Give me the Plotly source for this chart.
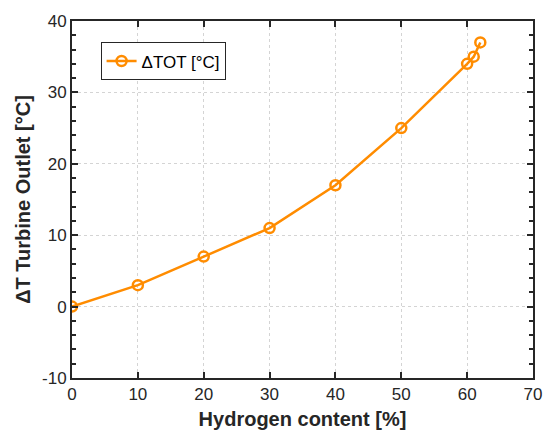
import plotly.graph_objects as go

hydrogen = [0, 10, 20, 30, 40, 50, 60, 61, 62]
delta_tot = [0, 3, 7, 11, 17, 25, 34, 35, 37]
series_name = "ΔTOT [°C]"
x_ticks = [0, 10, 20, 30, 40, 50, 60, 70]
y_ticks = [-10, 0, 10, 20, 30, 40]
y_tick_labels = ["-10", "0", "10", "20", "30", "40"]

orange = "#FF8C00"
dark = "#262626"
font_family = "Liberation Sans, Arial"

fig = go.Figure()
fig.add_trace(go.Scatter(
    x=hydrogen, y=delta_tot, name=series_name, mode="lines+markers",
    line=dict(color=orange, width=2.5),
    marker=dict(symbol="circle-open", size=10, color=orange, line=dict(width=2.5, color=orange)),
))

axis_common = dict(
    showline=True, linecolor=dark, linewidth=2, mirror="ticks",
    ticks="inside", ticklen=6, tickwidth=1.5, tickcolor=dark,
    showgrid=True, gridcolor="#d4d4d4", griddash="dot", gridwidth=1,
    zeroline=False,
    tickfont=dict(family=font_family, size=17, color=dark),
)

fig.update_layout(
    width=554, height=439,
    margin=dict(l=72, r=13, t=15, b=59),
    paper_bgcolor="white", plot_bgcolor="white",
    showlegend=True,
    legend=dict(x=0.062, y=0.94, xanchor="left", yanchor="top",
                bgcolor="white", bordercolor=dark, borderwidth=1,
                font=dict(family=font_family, size=17, color="black"),
                itemwidth=30, tracegroupgap=0),
    xaxis=dict(range=[0, 70], tickvals=x_ticks, **axis_common,
               title=dict(text="<b>Hydrogen content [%]</b>", standoff=9,
                          font=dict(family=font_family, size=20, color=dark))),
    yaxis=dict(range=[-10, 40], tickvals=y_ticks, ticktext=y_tick_labels, **axis_common,
               minor=dict(dtick=2, ticks="inside", ticklen=4, tickcolor=dark, showgrid=False),
               title=dict(text="<b>ΔT Turbine Outlet [°C]</b>", standoff=6,
                          font=dict(family=font_family, size=20, color=dark))),
)

fig.write_html("out.html")
